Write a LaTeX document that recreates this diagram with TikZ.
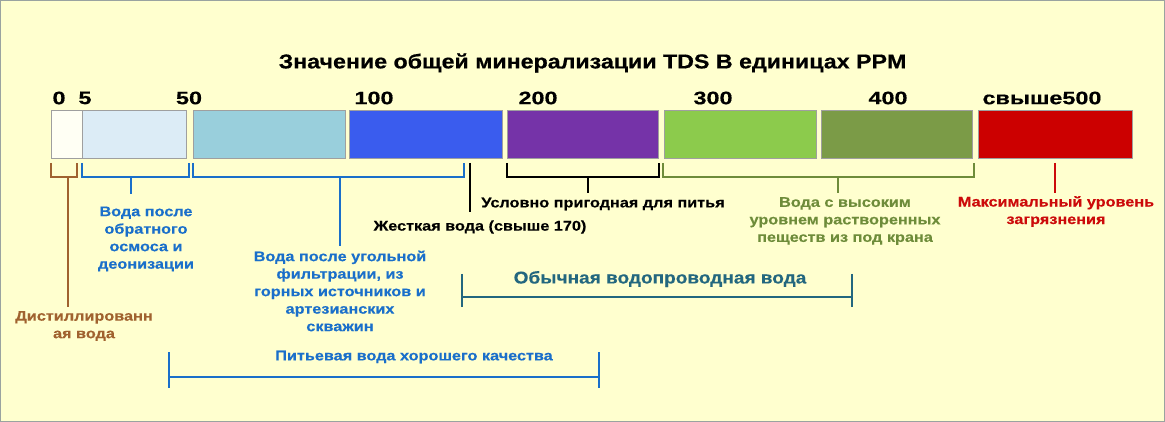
\documentclass[tikz,border=0pt]{standalone}
\usepackage{fontspec}
\setmainfont{Liberation Sans}
\newfontfamily\titlefont[FakeStretch=1.16,FakeBold=0.6]{Liberation Sans}
\newfontfamily\numfont[FakeStretch=1.3,FakeBold=0.4]{Liberation Sans}
\newfontfamily\labfont[FakeStretch=1.16,FakeBold=0.3]{Liberation Sans}
\newfontfamily\bigfont[FakeStretch=1.12,FakeBold=0.3]{Liberation Sans}
\definecolor{bg}{HTML}{FFFFCF}
\definecolor{frame}{HTML}{9AA3A0}
\definecolor{cwhite}{HTML}{FFFFF4}
\definecolor{clblue}{HTML}{DCECF6}
\definecolor{cteal}{HTML}{99CFDC}
\definecolor{cblue}{HTML}{3A5CEE}
\definecolor{cpurple}{HTML}{7533A8}
\definecolor{cgreen}{HTML}{8CCB4C}
\definecolor{colive}{HTML}{7B9B47}
\definecolor{cred}{HTML}{CC0000}
\definecolor{tbrown}{HTML}{A0622F}
\definecolor{tblue}{HTML}{1A6FCA}
\definecolor{tolive}{HTML}{6E8C3A}
\definecolor{tred}{HTML}{CC0A0A}
\definecolor{tteal}{HTML}{23677F}
\begin{document}
\begin{tikzpicture}[x=1pt,y=-1pt,
  bar/.style={draw=gray!75, line width=0.6pt, inner sep=0pt, outer sep=0pt, anchor=north west, minimum height=48pt},
  num/.style={font=\numfont\bfseries\fontsize{18}{20}\selectfont, inner sep=0pt},
  lab/.style={font=\labfont\bfseries\fontsize{14}{17.5}\selectfont, align=center, inner sep=0pt},
  brk/.style={line width=2.6pt},
  rng/.style={line width=2.6pt}
]
\fill[bg] (0,0) rectangle (1165,422);
\draw[frame, line width=1pt] (0.5,0.5) rectangle (1164.5,421.5);

\node[font=\titlefont\bfseries\fontsize{20}{22}\selectfont, inner sep=0pt] (title) at (592.5,63) {Значение общей минерализации TDS В единицах PPM};

% scale numbers
\node[num] (n0) at (59,98) {0};
\node[num] (n5) at (85,98) {5};
\node[num] (n50) at (189,98) {50};
\node[num] (n100) at (374,98) {100};
\node[num] (n200) at (538,98) {200};
\node[num] (n300) at (713,98) {300};
\node[num] (n400) at (888,98) {400};
\node[num] (n500) at (1042,98) {свыше500};

% bars
\node[bar, fill=cwhite, minimum width=31pt] (b0) at (51,110) {};
\node[bar, fill=clblue, minimum width=104pt] (b1) at (82,110) {};
\node[bar, fill=cteal, minimum width=152pt] (b2) at (193,110) {};
\node[bar, fill=cblue, minimum width=153pt] (b3) at (349,110) {};
\node[bar, fill=cpurple, minimum width=151pt] (b4) at (507,110) {};
\node[bar, fill=cgreen, minimum width=152pt] (b5) at (664,110) {};
\node[bar, fill=colive, minimum width=151pt] (b6) at (821,110) {};
\node[bar, fill=cred, minimum width=154pt] (b7) at (978,110) {};

% labels
\node[lab, text=tbrown] (l0) at (84,326) {Дистиллированн\\ая вода};
\node[lab, text=tblue] (l1) at (146,239) {Вода после\\обратного\\осмоса и\\деонизации};
\node[lab, text=tblue] (l2) at (340,291) {Вода после угольной\\фильтрации, из\\горных источников и\\артезианских\\скважин};
\node[lab, text=black] (l3) at (480,227) {Жесткая вода (свыше 170)};
\node[lab, text=black] (l4) at (603,204) {Условно пригодная для питья};
\node[lab, text=tolive] (l5) at (845,221) {Вода с высоким\\уровнем растворенных\\пеществ из под крана};
\node[lab, text=tred] (l6) at (1056,211.5) {Максимальный уровень\\загрязнения};
\node[font=\bigfont\bfseries\fontsize{17}{20}\selectfont, text=tteal, inner sep=0pt] (l7) at (660,279) {Обычная водопроводная вода};
\node[lab, text=tblue] (l8) at (414,357) {Питьевая вода хорошего качества};

% brackets
\coordinate (s0) at (68,177);
\draw[brk, tbrown] (51,163) -- (51,177) -- (77,177) -- (77,163);
\draw[brk, tbrown] (s0) -- (68,307);
\coordinate (s1) at (131,177);
\draw[brk, tblue] (82,163) -- (82,177) -- (189,177) -- (189,163);
\draw[brk, tblue] (s1) -- (131,194);
\coordinate (s2) at (340,177);
\draw[brk, tblue] (193,163) -- (193,177) -- (464,177) -- (464,163);
\draw[brk, tblue] (s2) -- (340,246);
\coordinate (s3) at (470,163);
\draw[brk, black] (s3) -- (470,212);
\coordinate (s4) at (588,177);
\draw[brk, black] (507,163) -- (507,177) -- (659,177) -- (659,163);
\draw[brk, black] (s4) -- (588,193);
\coordinate (s5) at (838,177);
\draw[brk, tolive] (663,163) -- (663,177) -- (974,177) -- (974,163);
\draw[brk, tolive] (s5) -- (838,193);
\coordinate (s6) at (1055,163);
\draw[brk, tred] (s6) -- (1055,193);

% ranges
\coordinate (r1a) at (462,297);
\coordinate (r1b) at (852,297);
\draw[rng, tteal] (r1a) -- (r1b);
\draw[rng, tteal] (462,274) -- (462,307);
\draw[rng, tteal] (852,274) -- (852,307);
\coordinate (r2a) at (169,377);
\coordinate (r2b) at (599,377);
\draw[rng, tblue] (r2a) -- (r2b);
\draw[rng, tblue] (169,352) -- (169,388);
\draw[rng, tblue] (599,352) -- (599,388);
\end{tikzpicture}
\end{document}
